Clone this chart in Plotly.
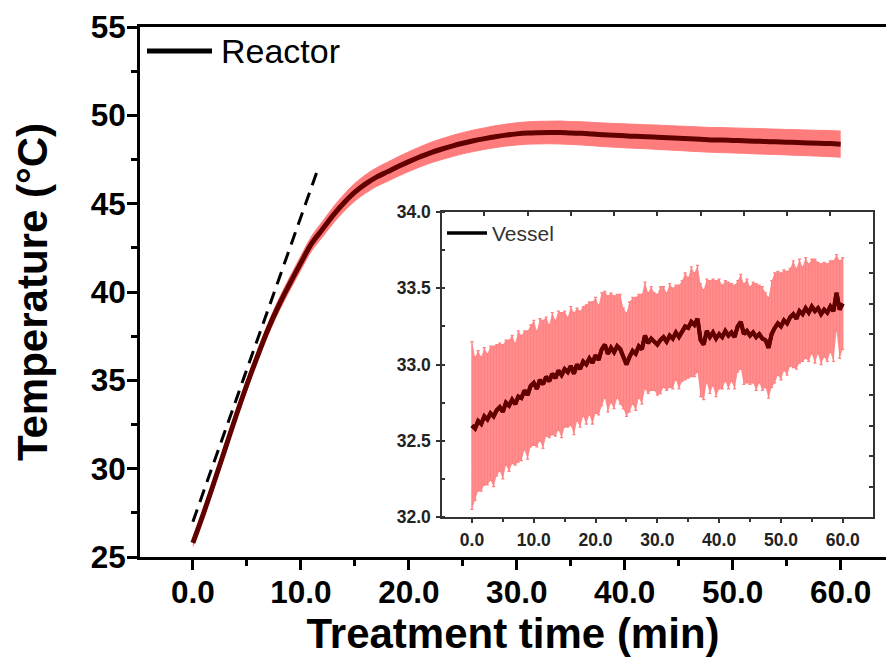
import plotly.graph_objects as go

# ---------------- data ----------------
reactor_time = list(range(0, 61))
reactor_temp = [25.8, 27.5, 29.3, 31.15, 33.0, 34.75, 36.4, 37.95, 39.3, 40.5,
                41.65, 42.75, 43.55, 44.35, 45.05, 45.65, 46.12, 46.5, 46.8, 47.1,
                47.38, 47.64, 47.88, 48.08, 48.26, 48.42, 48.56, 48.68, 48.79, 48.88,
                48.95, 49.0, 49.02, 49.03, 49.03, 49.0, 48.98, 48.94, 48.9, 48.87,
                48.84, 48.81, 48.79, 48.76, 48.73, 48.7, 48.67, 48.64, 48.61, 48.6,
                48.58, 48.56, 48.54, 48.52, 48.5, 48.48, 48.46, 48.44, 48.42, 48.4, 48.37]
reactor_sd = [0.20, 0.22, 0.24, 0.26, 0.28, 0.30, 0.32, 0.34, 0.36, 0.38,
              0.40, 0.42, 0.44, 0.46, 0.48, 0.50, 0.52, 0.53, 0.54, 0.55,
              0.56, 0.57, 0.58, 0.59, 0.60, 0.60, 0.61, 0.61, 0.62, 0.62,
              0.63, 0.63, 0.64, 0.64, 0.65, 0.65, 0.66, 0.66, 0.67, 0.67,
              0.68, 0.68, 0.68, 0.69, 0.69, 0.69, 0.70, 0.70, 0.70, 0.71,
              0.71, 0.71, 0.72, 0.72, 0.72, 0.72, 0.73, 0.73, 0.73, 0.74, 0.74]

fit_time = [0.0, 11.6]
fit_temp = [27.0, 47.0]

vessel_time = [i * 0.5 for i in range(121)]
vessel_temp = [32.60, 32.58, 32.63, 32.61, 32.66, 32.64, 32.68, 32.66, 32.70, 32.72,
               32.69, 32.75, 32.73, 32.77, 32.74, 32.79, 32.78, 32.83, 32.80, 32.86,
               32.88, 32.84, 32.90, 32.87, 32.92, 32.89, 32.94, 32.91, 32.96, 32.93,
               32.97, 32.95, 32.99, 32.94, 33.00, 32.97, 33.02, 33.00, 33.04, 33.01,
               33.06, 33.03, 33.10, 33.13, 33.07, 33.11, 33.08, 33.12, 33.10, 33.04,
               33.00, 33.05, 33.09, 33.07, 33.12, 33.10, 33.19, 33.14, 33.17, 33.15,
               33.13, 33.16, 33.18, 33.15, 33.19, 33.17, 33.21, 33.18, 33.22, 33.25,
               33.24, 33.28, 33.26, 33.30, 33.16, 33.13, 33.22, 33.18, 33.21, 33.17,
               33.20, 33.18, 33.22, 33.19, 33.21, 33.18, 33.25, 33.28, 33.20, 33.22,
               33.19, 33.21, 33.18, 33.20, 33.17, 33.16, 33.11, 33.20, 33.24, 33.27,
               33.25, 33.29, 33.27, 33.31, 33.33, 33.30, 33.35, 33.33, 33.37, 33.34,
               33.38, 33.35, 33.37, 33.33, 33.36, 33.34, 33.38, 33.35, 33.47, 33.36,
               33.40]
vessel_sd = [0.55, 0.47, 0.46, 0.44, 0.45, 0.43, 0.44, 0.46, 0.43, 0.42,
             0.44, 0.41, 0.43, 0.42, 0.40, 0.43, 0.41, 0.39, 0.42, 0.40,
             0.41, 0.38, 0.40, 0.42, 0.39, 0.37, 0.40, 0.38, 0.39, 0.41,
             0.38, 0.36, 0.39, 0.40, 0.37, 0.38, 0.36, 0.39, 0.37, 0.40,
             0.38, 0.36, 0.37, 0.35, 0.38, 0.36, 0.37, 0.34, 0.36, 0.33,
             0.34, 0.36, 0.35, 0.37, 0.34, 0.36, 0.35, 0.33, 0.34, 0.32,
             0.33, 0.35, 0.33, 0.32, 0.34, 0.33, 0.31, 0.34, 0.33, 0.35,
             0.33, 0.36, 0.34, 0.35, 0.37, 0.36, 0.34, 0.37, 0.35, 0.38,
             0.36, 0.34, 0.33, 0.35, 0.32, 0.34, 0.30, 0.31, 0.33, 0.34,
             0.32, 0.33, 0.35, 0.32, 0.34, 0.31, 0.33, 0.35, 0.36, 0.34,
             0.35, 0.33, 0.34, 0.32, 0.35, 0.33, 0.34, 0.31, 0.33, 0.32,
             0.31, 0.34, 0.30, 0.33, 0.31, 0.32, 0.30, 0.33, 0.25, 0.32,
             0.30]

main_xticks = [0, 10, 20, 30, 40, 50, 60]
main_xticklabels = ["0.0", "10.0", "20.0", "30.0", "40.0", "50.0", "60.0"]
main_yticks = [25, 30, 35, 40, 45, 50, 55]
inset_yticks = [32.0, 32.5, 33.0, 33.5, 34.0]
inset_yticklabels = ["32.0", "32.5", "33.0", "33.5", "34.0"]

# ---------------- styles ----------------
DARK = "#620000"
BAND = "rgba(255,95,95,0.82)"
FONT = "Arial"

W, H = 886, 670
L, R, T, B = 140, 0, 27, 113
PW, PH = W - L - R, H - T - B


def px_x(px):
    return (px - L) / PW


def px_y(py):
    return (H - B - py) / PH


fig = go.Figure()

# main band
upper = [m + s for m, s in zip(reactor_temp, reactor_sd)]
lower = [m - s for m, s in zip(reactor_temp, reactor_sd)]
fig.add_trace(go.Scatter(x=reactor_time, y=upper, mode="lines",
                         line=dict(color="rgba(255,120,120,0.9)", width=1, shape="spline"),
                         showlegend=False, hoverinfo="skip"))
fig.add_trace(go.Scatter(x=reactor_time, y=lower, mode="lines",
                         line=dict(color="rgba(255,120,120,0.9)", width=1, shape="spline"),
                         fill="tonexty", fillcolor=BAND,
                         showlegend=False, hoverinfo="skip"))
fig.add_trace(go.Scatter(x=reactor_time, y=reactor_temp, mode="lines",
                         line=dict(color=DARK, width=5, shape="spline"), name="Reactor",
                         showlegend=False))
fig.add_trace(go.Scatter(x=fit_time, y=fit_temp, mode="lines",
                         line=dict(color="black", width=3, dash="13px,8px"),
                         showlegend=False))

# inset
v_up = [m + s for m, s in zip(vessel_temp, vessel_sd)]
v_lo = [m - s for m, s in zip(vessel_temp, vessel_sd)]
fig.add_trace(go.Scatter(x=vessel_time, y=v_up, mode="lines", line=dict(width=0),
                         xaxis="x2", yaxis="y2", showlegend=False, hoverinfo="skip"))
fig.add_trace(go.Scatter(x=vessel_time, y=v_lo, mode="lines", line=dict(width=0),
                         fill="tonexty", fillcolor="rgba(255,105,105,0.75)",
                         xaxis="x2", yaxis="y2", showlegend=False, hoverinfo="skip"))
fig.add_trace(go.Scatter(x=vessel_time, y=vessel_temp, mode="lines",
                         line=dict(color=DARK, width=4), name="Vessel",
                         error_y=dict(type="data", array=vessel_sd, visible=True,
                                      color="#ff8080", thickness=1.3, width=1.5),
                         xaxis="x2", yaxis="y2", showlegend=False))
fig.add_trace(go.Scatter(x=vessel_time, y=vessel_temp, mode="lines",
                         line=dict(color=DARK, width=4),
                         xaxis="x2", yaxis="y2", showlegend=False, hoverinfo="skip"))
# helper traces for the mirrored tick axes of the inset
fig.add_trace(go.Scatter(x=[None], y=[None], xaxis="x3", yaxis="y2",
                         showlegend=False, hoverinfo="skip"))
fig.add_trace(go.Scatter(x=[None], y=[None], xaxis="x2", yaxis="y3",
                         showlegend=False, hoverinfo="skip"))

inset_dom_x = [px_x(442), px_x(873)]
inset_dom_y = [px_y(517), px_y(212)]

fig.update_layout(
    width=W, height=H,
    margin=dict(l=L, r=R, t=T, b=B, autoexpand=False),
    paper_bgcolor="white", plot_bgcolor="white",
    font=dict(family=FONT, color="black"),
    showlegend=False,
    xaxis=dict(
        domain=[0, 1], range=[-4.9, 64.2], showgrid=False, zeroline=False,
        automargin=False,
        showline=True, linecolor="black", linewidth=3, mirror=True,
        tickmode="array", tickvals=main_xticks, ticktext=main_xticklabels,
        ticks="outside", ticklen=10, tickwidth=3, tickcolor="black",
        minor=dict(ticks="outside", ticklen=6, tickwidth=3, dtick=5, tick0=0,
                   tickcolor="black", showgrid=False),
        tickfont=dict(size=31.5, weight="bold", family=FONT),
        ticklabelstandoff=-5,
        title=dict(text="Treatment time (min)", standoff=10,
                   font=dict(size=42, weight="bold", family=FONT)),
        anchor="y",
    ),
    yaxis=dict(
        domain=[0, 1], range=[25, 55], showgrid=False, zeroline=False,
        automargin=False,
        showline=True, linecolor="black", linewidth=3, mirror=False,
        tickmode="array", tickvals=main_yticks,
        ticks="outside", ticklen=10, tickwidth=3, tickcolor="black",
        minor=dict(ticks="outside", ticklen=6, tickwidth=3, dtick=2.5, tick0=25,
                   tickcolor="black", showgrid=False),
        tickfont=dict(size=31.5, weight="bold", family=FONT),
        ticklabelstandoff=-5,
        title=dict(text="Temperature (°C)", standoff=30,
                   font=dict(size=42, weight="bold", family=FONT)),
        anchor="x",
    ),
    xaxis2=dict(
        domain=inset_dom_x, range=[-4.85, 64.9], anchor="y2",
        showgrid=False, zeroline=False, automargin=False,
        showline=True, linecolor="#333333", linewidth=1.5, mirror=True,
        tickmode="array", tickvals=main_xticks, ticktext=main_xticklabels,
        ticks="outside", ticklen=4, tickwidth=1.5, tickcolor="#333333",
        minor=dict(ticks="outside", ticklen=3, tickwidth=1.5, dtick=5, tick0=0,
                   tickcolor="#333333", showgrid=False),
        tickfont=dict(size=17.5, weight="bold", family=FONT, color="#222222"),
        ticklabelstandoff=2,
    ),
    yaxis2=dict(
        domain=inset_dom_y, range=[32, 34], anchor="x2",
        showgrid=False, zeroline=False, automargin=False,
        showline=True, linecolor="#333333", linewidth=1.5, mirror=True,
        tickmode="array", tickvals=inset_yticks, ticktext=inset_yticklabels,
        ticks="outside", ticklen=4, tickwidth=1.5, tickcolor="#333333",
        minor=dict(ticks="inside", ticklen=3, tickwidth=1.5, dtick=0.25, tick0=32,
                   tickcolor="#333333", showgrid=False),
        tickfont=dict(size=17.5, weight="bold", family=FONT, color="#222222"),
        ticklabelstandoff=2,
    ),
    xaxis3=dict(
        overlaying="x2", anchor="y2", side="top", range=[-4.85, 64.9],
        showgrid=False, zeroline=False, showline=False, showticklabels=False,
        automargin=False,
        tick0=2, dtick=7, ticks="inside", ticklen=4, tickwidth=1.5,
        tickcolor="#333333",
    ),
    yaxis3=dict(
        overlaying="y2", anchor="x2", side="right", range=[32, 34],
        showgrid=False, zeroline=False, showline=False, showticklabels=False,
        automargin=False,
        tick0=32, dtick=0.2, ticks="inside", ticklen=4, tickwidth=1.5,
        tickcolor="#333333",
    ),
)

# legends (drawn as real text + sample line)
fig.add_shape(type="line", xref="paper", yref="paper",
              x0=px_x(147), x1=px_x(212), y0=px_y(51), y1=px_y(51),
              line=dict(color="black", width=5))
fig.add_annotation(xref="paper", yref="paper", x=px_x(219), y=px_y(51),
                   xanchor="left", yanchor="middle", showarrow=False,
                   text="Reactor", font=dict(size=34, family=FONT, color="black"))
fig.add_shape(type="line", xref="paper", yref="paper",
              x0=px_x(447), x1=px_x(487), y0=px_y(233), y1=px_y(233),
              line=dict(color="black", width=3.5))
fig.add_annotation(xref="paper", yref="paper", x=px_x(490), y=px_y(233),
                   xanchor="left", yanchor="middle", showarrow=False,
                   text="Vessel", font=dict(size=21, family=FONT, color="#333333"))

fig.write_html("out.html", config={"displayModeBar": False},
               post_script="document.body.style.margin='0px';document.body.style.overflow='hidden';")
